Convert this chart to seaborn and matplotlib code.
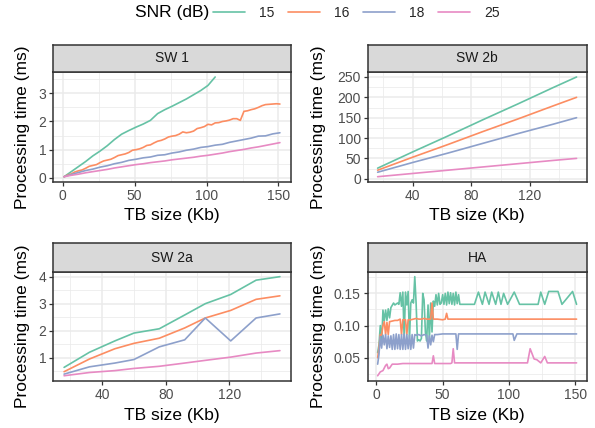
import matplotlib
matplotlib.use("Agg")
import matplotlib.pyplot as plt
import numpy as np
import pandas as pd
import seaborn as sns
from matplotlib.ticker import FormatStrFormatter

sns.set_theme(style="white")
plt.rcParams["font.family"] = ["Liberation Sans", "DejaVu Sans"]

# ---------------- data ----------------
snr_levels = ["15", "16", "18", "25"]
colors = ["#66C2A5", "#FC8D62", "#8DA0CB", "#E78AC3"]

# SW 1
sw1_x = [1, 6, 11, 16, 21, 26, 31, 36, 41, 46, 51, 56, 61, 66, 71, 76, 81, 86,
         91, 96, 101, 106, 111, 116, 121, 126, 131, 136, 141, 146, 151]
sw1_15 = [0.04, 0.22, 0.40, 0.58, 0.78, 0.95, 1.14, 1.36, 1.55, 1.68, 1.80,
          1.91, 2.04, 2.28, 2.42, 2.54, 2.67, 2.80, 2.95, 3.10, 3.28, 3.58]
sw1_x16 = [1, 3.5, 6, 8.5, 11, 13.5, 16, 18.5, 21, 23.5, 26, 28.5, 31, 33.5,
           36, 38.5, 41, 43.5, 46, 48.5, 51, 53.5, 56, 58.5, 61, 63.5, 66,
           68.5, 71, 73.5, 76, 78.5, 81, 83.5, 86, 88.5, 91, 93.5, 96, 98.5,
           101, 103.5, 106, 108.5, 111, 113.5, 116, 118.5, 121, 123.5, 126,
           128.5, 131, 133.5, 136, 138.5, 141, 143.5, 146, 148.5, 151]
sw1_16 = [0.04, 0.10, 0.14, 0.21, 0.25, 0.28, 0.34, 0.41, 0.44, 0.47, 0.54,
          0.60, 0.63, 0.66, 0.72, 0.79, 0.82, 0.85, 0.90, 0.98, 1.00, 1.03,
          1.08, 1.15, 1.17, 1.24, 1.30, 1.33, 1.38, 1.45, 1.48, 1.50, 1.55,
          1.63, 1.60, 1.62, 1.66, 1.75, 1.78, 1.82, 1.90, 1.88, 1.95, 1.96,
          2.00, 2.02, 2.05, 2.10, 2.10, 2.04, 2.36, 2.38, 2.42, 2.45, 2.50,
          2.56, 2.60, 2.61, 2.62, 2.63, 2.62]
sw1_18 = [0.04, 0.12, 0.19, 0.26, 0.31, 0.38, 0.43, 0.50, 0.55, 0.62, 0.66,
          0.71, 0.74, 0.80, 0.82, 0.88, 0.92, 0.98, 1.02, 1.08, 1.11, 1.16,
          1.19, 1.26, 1.31, 1.36, 1.41, 1.48, 1.49, 1.56, 1.60]
sw1_25 = [0.04, 0.09, 0.13, 0.18, 0.22, 0.26, 0.30, 0.35, 0.39, 0.43, 0.47,
          0.50, 0.54, 0.57, 0.60, 0.64, 0.67, 0.70, 0.73, 0.77, 0.80, 0.84,
          0.88, 0.93, 0.97, 1.01, 1.06, 1.10, 1.15, 1.20, 1.25]

# SW 2b
sw2b_x = [16, 40, 64, 88, 112, 136, 152]
sw2b_15 = [26, 66, 105, 145, 184, 224, 250]
sw2b_16 = [21, 53, 84, 116, 147, 179, 200]
sw2b_18 = [16, 40, 63, 87, 111, 134, 150]
sw2b_25 = [5, 13, 21, 29, 37, 45, 50]

# SW 2a
sw2a_x = [16, 32, 48, 60, 76, 92, 105, 121, 137, 152]
sw2a_15 = [0.64, 1.20, 1.62, 1.91, 2.07, 2.58, 3.00, 3.34, 3.87, 4.00]
sw2a_16 = [0.48, 0.95, 1.33, 1.53, 1.72, 2.10, 2.47, 2.75, 3.16, 3.29]
sw2a_18 = [0.39, 0.66, 0.80, 0.93, 1.40, 1.66, 2.47, 1.62, 2.47, 2.62]
sw2a_25 = [0.33, 0.45, 0.52, 0.60, 0.68, 0.80, 0.90, 1.02, 1.17, 1.26]

# HA
ha_x_15 = [1, 2, 3, 4, 5, 6, 7, 8, 9, 10, 11, 13, 14, 16, 17, 18, 19, 20, 21,
           22, 23, 24, 25, 26, 27, 28, 29, 30, 31, 32, 33, 34, 35, 36, 37, 38,
           39, 40, 41, 42, 43, 44, 45, 46, 47, 48, 49, 50, 51, 52, 53, 54, 55,
           56, 57, 58, 59, 60, 61, 62, 63, 70, 74, 77, 80, 82, 85, 87, 90, 92,
           94, 96, 99, 104, 108, 122, 124, 127, 130, 137, 140, 148, 151]
ha_y_15 = [0.058, 0.070, 0.100, 0.072, 0.124, 0.107, 0.124, 0.108, 0.126,
           0.112, 0.128, 0.135, 0.132, 0.135, 0.133, 0.151, 0.130, 0.152,
           0.080, 0.152, 0.132, 0.153, 0.078, 0.135, 0.140, 0.135, 0.176,
           0.135, 0.076, 0.078, 0.076, 0.080, 0.150, 0.140, 0.090, 0.076,
           0.132, 0.078, 0.135, 0.090, 0.138, 0.130, 0.148, 0.132, 0.150,
           0.133, 0.135, 0.148, 0.133, 0.150, 0.132, 0.152, 0.134, 0.151,
           0.133, 0.150, 0.132, 0.152, 0.134, 0.148, 0.133, 0.133, 0.133,
           0.152, 0.133, 0.152, 0.133, 0.152, 0.133, 0.152, 0.133, 0.150,
           0.133, 0.152, 0.133, 0.133, 0.152, 0.133, 0.153, 0.153, 0.133,
           0.153, 0.133]
ha_x_16 = [1, 2, 3, 4, 5, 6, 7, 8, 9, 10, 12, 14, 16, 18, 19, 20, 22, 23, 24,
           26, 28, 30, 32, 34, 36, 38, 40, 41, 42, 43, 46, 50, 52, 53, 54, 60,
           70, 80, 90, 100, 110, 120, 130, 140, 151]
ha_y_16 = [0.050, 0.065, 0.086, 0.085, 0.100, 0.106, 0.086, 0.105, 0.086,
           0.106, 0.107, 0.108, 0.108, 0.110, 0.086, 0.109, 0.109, 0.086,
           0.109, 0.109, 0.110, 0.111, 0.110, 0.110, 0.111, 0.110, 0.110,
           0.110, 0.135, 0.110, 0.110, 0.109, 0.110, 0.119, 0.110, 0.110,
           0.110, 0.110, 0.110, 0.110, 0.110, 0.110, 0.110, 0.110, 0.110]
ha_x_18 = [1, 2, 3, 4, 5, 6, 7, 8, 9, 10, 11, 12, 13, 14, 15, 16, 17, 18, 19,
           20, 21, 22, 23, 24, 25, 26, 27, 28, 29, 30, 32, 34, 36, 38, 39, 40,
           41, 42, 43, 44, 46, 50, 55, 60, 61, 62, 70, 80, 90, 100, 103, 104,
           106, 120, 140, 151]
ha_y_18 = [0.040, 0.055, 0.083, 0.065, 0.085, 0.070, 0.086, 0.064, 0.084,
           0.066, 0.084, 0.063, 0.086, 0.063, 0.087, 0.064, 0.086, 0.063,
           0.086, 0.063, 0.087, 0.063, 0.086, 0.064, 0.085, 0.063, 0.086,
           0.065, 0.086, 0.085, 0.086, 0.084, 0.086, 0.085, 0.065, 0.084,
           0.070, 0.085, 0.075, 0.086, 0.086, 0.087, 0.087, 0.087, 0.063,
           0.087, 0.087, 0.087, 0.087, 0.087, 0.087, 0.077, 0.087, 0.087,
           0.087, 0.087]
ha_x_25 = [1, 3, 5, 7, 8, 9, 10, 12, 16, 20, 30, 40, 42, 43, 44, 50, 56, 57,
           58, 59, 70, 80, 90, 100, 110, 114, 116, 119, 121, 124, 127, 129,
           140, 151]
ha_y_25 = [0.022, 0.028, 0.030, 0.038, 0.040, 0.033, 0.034, 0.040, 0.040,
           0.041, 0.041, 0.041, 0.041, 0.053, 0.041, 0.041, 0.041, 0.042,
           0.064, 0.042, 0.042, 0.042, 0.042, 0.042, 0.042, 0.042, 0.064,
           0.048, 0.047, 0.042, 0.052, 0.042, 0.042, 0.042]


def long_df(pairs):
    frames = []
    for snr, (xs, ys) in zip(snr_levels, pairs):
        frames.append(pd.DataFrame({"tb": xs[:len(ys)], "t": ys, "snr": snr}))
    return pd.concat(frames, ignore_index=True)


df_sw1 = long_df([(sw1_x, sw1_15), (sw1_x16, sw1_16), (sw1_x, sw1_18), (sw1_x, sw1_25)])
df_sw2b = long_df([(sw2b_x, sw2b_15), (sw2b_x, sw2b_16), (sw2b_x, sw2b_18), (sw2b_x, sw2b_25)])
df_sw2a = long_df([(sw2a_x, sw2a_15), (sw2a_x, sw2a_16), (sw2a_x, sw2a_18), (sw2a_x, sw2a_25)])
df_ha = long_df([(ha_x_15, ha_y_15), (ha_x_16, ha_y_16), (ha_x_18, ha_y_18), (ha_x_25, ha_y_25)])

# ---------------- figure ----------------
W, H = 595, 428
fig = plt.figure(figsize=(W / 100, H / 100), dpi=100)
fig.patch.set_facecolor("white")

DARK = "#333333"
GRID = "#EBEBEB"
SMALL = 10


def px_axes(l, t, r, b):
    return fig.add_axes([l / W, 1 - b / H, (r - l) / W, (b - t) / H])


def panel(df, box, strip_top, title, xmaj, xmin, ymaj, ymin, ylab_px, xlab_px,
          yfmt=None, legend=False):
    l, t, r, b = box
    ax = px_axes(l, t, r, b)
    sns.lineplot(data=df, x="tb", y="t", hue="snr", hue_order=snr_levels,
                 palette=colors, estimator=None, linewidth=1.2, ax=ax,
                 legend=legend)
    xlo, xhi = df["tb"].min(), df["tb"].max()
    ylo, yhi = df["t"].min(), df["t"].max()
    ax.set_xlim(xlo - 0.05 * (xhi - xlo), xhi + 0.05 * (xhi - xlo))
    ax.set_ylim(ylo - 0.05 * (yhi - ylo), yhi + 0.05 * (yhi - ylo))
    ax.set_xticks(xmaj)
    ax.set_xticks(xmin, minor=True)
    ax.set_yticks(ymaj)
    ax.set_yticks(ymin, minor=True)
    if yfmt:
        ax.yaxis.set_major_formatter(FormatStrFormatter(yfmt))
    ax.set_axisbelow(True)
    ax.grid(which="major", color=GRID, linewidth=1.1)
    ax.grid(which="minor", color=GRID, linewidth=0.55)
    ax.tick_params(which="major", direction="out", length=2.75, width=0.9,
                   color=DARK, labelcolor="#4D4D4D", labelsize=SMALL, pad=2.2,
                   bottom=True, left=True)
    ax.tick_params(which="minor", length=0)
    for s in ax.spines.values():
        s.set_color(DARK)
        s.set_linewidth(1.1)
    ax.set_facecolor("white")
    ax.set_xlabel("TB size (Kb)", fontsize=12.5, color="black", va="center")
    ax.set_ylabel("Processing time (ms)", fontsize=12.5, color="black", va="center")
    ax.yaxis.set_label_coords((ylab_px - l) / (r - l), 0.5)
    ax.xaxis.set_label_coords(0.5, -(xlab_px - b) / (b - t))

    sax = px_axes(l, strip_top, r, t)
    sax.set_facecolor("#D9D9D9")
    sax.set_xticks([])
    sax.set_yticks([])
    for s in sax.spines.values():
        s.set_color(DARK)
        s.set_linewidth(1.1)
    sax.text(0.5, 0.5, title, ha="center", va="center", fontsize=SMALL,
             color="#1A1A1A", transform=sax.transAxes)
    return ax


ax1 = panel(df_sw1, (53.3, 72, 290.7, 181.7), 44.7, "SW 1",
            [0, 50, 100, 150], [25, 75, 125], [0, 1, 2, 3], [0.5, 1.5, 2.5, 3.5],
            23, 215.5, legend=True)
ax2 = panel(df_sw2b, (367.7, 72, 586.5, 181.7), 44.7, "SW 2b",
            [40, 80, 120], [20, 60, 100, 140], [0, 50, 100, 150, 200, 250],
            [25, 75, 125, 175, 225], 318, 215.5)
ax3 = panel(df_sw2a, (53.3, 271.7, 290.7, 380.7), 243.3, "SW 2a",
            [40, 80, 120], [20, 60, 100, 140], [1, 2, 3, 4],
            [0.5, 1.5, 2.5, 3.5], 23, 415.5)
ax4 = panel(df_ha, (367.7, 271.7, 586.5, 380.7), 243.3, "HA",
            [0, 50, 100, 150], [25, 75, 125], [0.05, 0.10, 0.15],
            [0.025, 0.075, 0.125, 0.175], 318, 415.5, yfmt="%.2f")

handles, labels = ax1.get_legend_handles_labels()
if ax1.get_legend() is not None:
    ax1.get_legend().remove()
for h in handles:
    h.set_linewidth(1.2)

fig.text(135 / W, 1 - 13 / H, "SNR (dB)", fontsize=12.5, ha="left", va="center",
         color="black")
fig.legend(handles, labels, loc="center left",
           bbox_to_anchor=(213 / W, 1 - 13 / H), ncol=4, frameon=False,
           fontsize=SMALL, handlelength=2.3, handletextpad=1.0,
           columnspacing=1.0, borderpad=0, borderaxespad=0)

fig.savefig("out.png", dpi=100, facecolor="white")
